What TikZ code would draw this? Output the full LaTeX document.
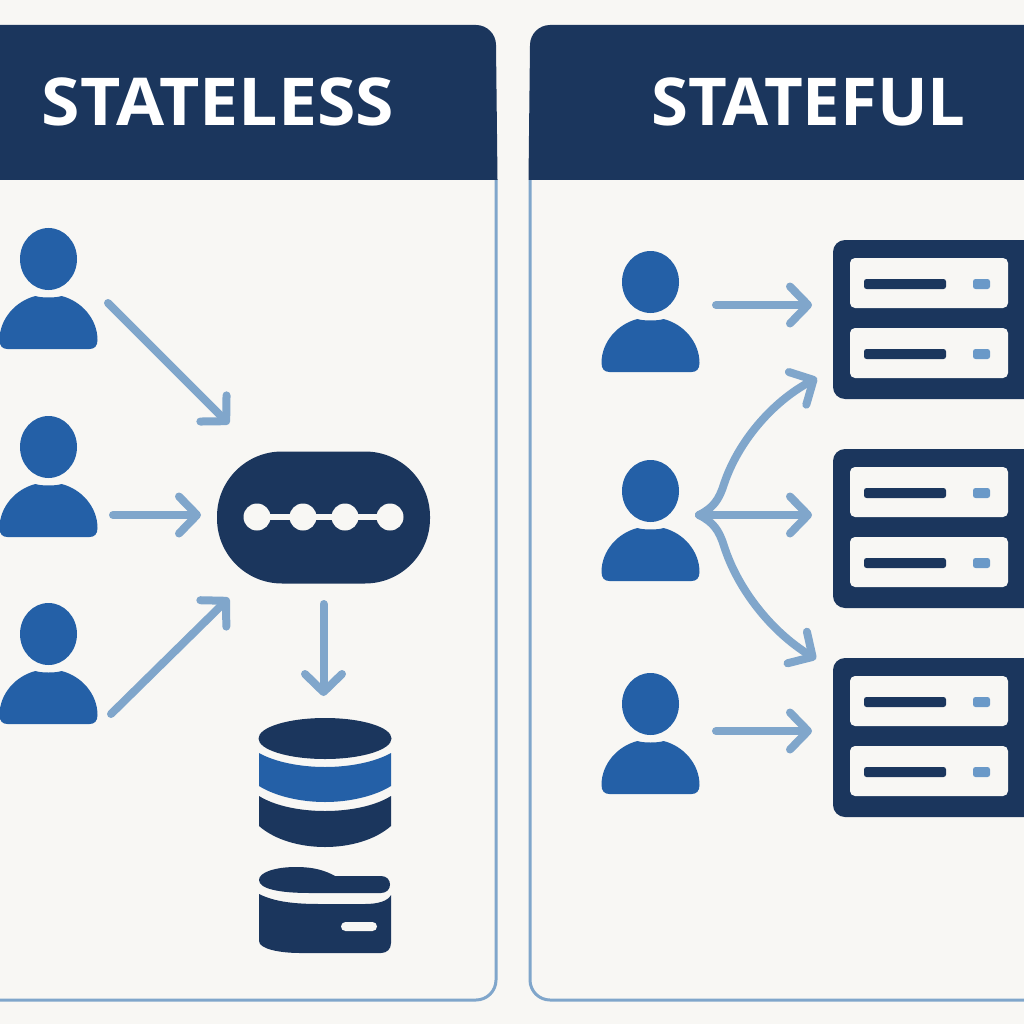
\documentclass[tikz,border=0pt]{standalone}
\usepackage{fontspec}
\setmainfont{Open Sans}
\usetikzlibrary{arrows.meta}
\definecolor{paper}{HTML}{F8F7F4}
\definecolor{navy}{HTML}{1B365D}
\definecolor{userblue}{HTML}{2460A7}
\definecolor{soft}{HTML}{80A6CB}
\definecolor{led}{HTML}{6A99C8}
\tikzset{
  x=1pt,y=-1pt,
  flow/.style={draw=soft,line width=8pt,line cap=round,line join=round,-{Straight Barb[length=18pt,width=37pt,round]}},
  panelline/.style={draw=soft,line width=3pt},
  title/.style={text=white,font=\bfseries\fontsize{66}{66}\selectfont,inner sep=0pt,anchor=center},
  usericon/.pic={
    \fill[userblue] (0,0) ellipse [x radius=28.5,y radius=31];
    \fill[userblue] (-41,90) .. controls (-46,90) and (-49,87) .. (-49,81)
      .. controls (-49,60) and (-33,42) .. (-13,37)
      .. controls (-8,39) and (8,39) .. (13,37)
      .. controls (33,42) and (49,60) .. (49,81)
      .. controls (49,87) and (46,90) .. (41,90) -- cycle;
  },
  rack/.pic={
    \fill[navy,rounded corners=12pt] (0,0) rectangle (210,159);
    \foreach \dy in {18,88}{
      \fill[paper,rounded corners=5pt] (17,\dy) rectangle (175,\dy+50);
      \fill[navy,rounded corners=2.5pt] (31,\dy+21) rectangle (113,\dy+31);
      \fill[led,rounded corners=2.5pt] (140,\dy+21) rectangle (157,\dy+31);
    }
  }
}
\begin{document}
\begin{tikzpicture}
\useasboundingbox (0,0) rectangle (1024,1024);
\clip (0,0) rectangle (1024,1024);
\fill[paper] (0,0) rectangle (1024,1024);
% panels
\path[panelline] (-5,1000) -- (476,1000) .. controls (487,1000) and (496,991) .. (496,980) -- (496,180);
\path[panelline] (1030,1000) -- (550,1000) .. controls (539,1000) and (530,991) .. (530,980) -- (530,180);
\fill[navy] (-5,25) -- (476,25) .. controls (487,25) and (496,34) .. (496,45) -- (497.5,180) -- (-5,180) -- cycle;
\fill[navy] (1030,25) -- (550,25) .. controls (539,25) and (530,34) .. (530,45) -- (528.5,180) -- (1030,180) -- cycle;
\node[title] (tl) at (218,101.5) {\scalebox{1.057}[1]{STATELESS}};
\node[title] (tr) at (808.5,101.5) {\scalebox{1.016}[1]{STATEFUL}};
% users
\pic at (48.5,259) {usericon};
\pic at (48.5,447) {usericon};
\pic at (48.5,634) {usericon};
\pic at (650.5,282) {usericon};
\pic at (650.5,491) {usericon};
\pic at (650.5,704) {usericon};
% racks
\pic at (833,240) {rack};
\pic at (833,449) {rack};
\pic at (833,658) {rack};
% gateway
\node[fill=navy,minimum width=213pt,minimum height=132pt,rounded corners=65pt,inner sep=0pt] (gw) at (323.5,517.5) {};
\draw[paper,line width=6pt] (257,517) -- (390,517);
\foreach \cx in {257,303,345,390}{\fill[paper] (\cx,517) circle [radius=13.5];}
% database
\fill[navy] (325,738.5) ellipse [x radius=66.5,y radius=20.5];
\fill[userblue] (259,753) .. controls (275,762) and (300,767) .. (325,767) .. controls (350,767) and (375,762) .. (391,753)
  -- (391,786) .. controls (375,796) and (350,802) .. (325,802) .. controls (300,802) and (275,796) .. (259,786) -- cycle;
\fill[navy] (259,796) .. controls (275,806) and (300,811) .. (325,811) .. controls (350,811) and (375,806) .. (391,796)
  -- (391,826) .. controls (375,840) and (350,847) .. (325,847) .. controls (300,847) and (275,840) .. (259,826) -- cycle;
% storage
\fill[navy] (259,880) .. controls (259,872) and (276,867) .. (296,867) .. controls (315,867) and (326,871) .. (335,876)
  -- (381,876) .. controls (393,876) and (393,893) .. (381,893) -- (310,893) .. controls (280,893) and (259,889) .. (259,880) -- cycle;
\fill[navy] (259,894) .. controls (275,902) and (295,904) .. (320,904) -- (365,904) .. controls (378,904) and (388,901) .. (391,895)
  -- (391,943) .. controls (391,949) and (387,953) .. (381,953) -- (300,953) .. controls (280,953) and (259,949) .. (259,941) -- cycle;
\fill[paper,rounded corners=4.5pt] (341,922) rectangle (377,931);
% connector ends
\coordinate (a1) at (108,303); \coordinate (b1) at (229,424);
\coordinate (a2) at (113,515); \coordinate (b2) at (201,515);
\coordinate (a3) at (111,714); \coordinate (b3) at (229,598);
\coordinate (a4) at (323.5,604); \coordinate (b4) at (323.5,696);
\coordinate (c1) at (716,305); \coordinate (d1) at (812,305);
\coordinate (c2) at (699,515); \coordinate (d2) at (812,515);
\coordinate (c3) at (716,731); \coordinate (d3) at (812,731);
\coordinate (d4) at (817,378); \coordinate (d5) at (816,659);
\draw[flow] (a1) -- (b1);
\draw[flow] (a2) -- (b2);
\draw[flow] (a3) -- (b3);
\draw[flow] (a4) -- (b4);
\draw[flow] (c1) -- (d1);
\draw[flow] (c2) -- (d2);
\draw[flow] (c3) -- (d3);
\draw[flow] (c2) .. controls (713,508) and (719,500) .. (724,484) .. controls (738,442) and (772,402) .. (d4);
\draw[flow] (c2) .. controls (713,522) and (719,530) .. (724,546) .. controls (738,590) and (772,632) .. (d5);
\end{tikzpicture}
\end{document}
